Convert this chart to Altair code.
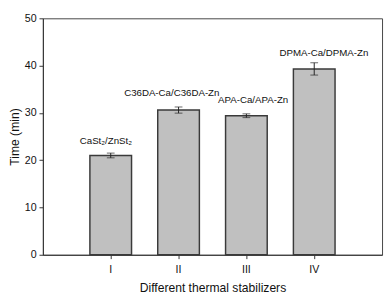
import altair as alt
import pandas as pd

categories = ["I", "II", "III", "IV"]
times = [21.0, 30.6, 29.4, 39.3]
errors = [0.5, 0.65, 0.4, 1.3]
labels = ["CaSt₂/ZnSt₂", "C36DA-Ca/C36DA-Zn", "APA-Ca/APA-Zn", "DPMA-Ca/DPMA-Zn"]
label_y = [24.0, 34.2, 32.7, 42.7]
label_dx = [-5, -7, 7, 10]

df = pd.DataFrame({
    "cat": categories,
    "time": times,
    "lo": [t - e for t, e in zip(times, errors)],
    "hi": [t + e for t, e in zip(times, errors)],
    "label": labels,
    "ly": label_y,
    "dx": label_dx,
})

FONT = "Liberation Sans"

x = alt.X("cat:N", sort=categories,
          scale=alt.Scale(paddingInner=0.386, paddingOuter=0.693),
          axis=alt.Axis(title="Different thermal stabilizers", labelAngle=0,
                        labelFontSize=11, titleFontSize=12.5, titlePadding=8,
                        labelPadding=5, tickSize=4, ticks=True))
y_scale = alt.Scale(domain=[0, 50], nice=False)

base = alt.Chart(df)

bars = base.mark_bar(color="#c0c0c0", stroke="#3a3a3a", strokeWidth=1.5).encode(
    x=x,
    y=alt.Y("time:Q", scale=y_scale,
            axis=alt.Axis(title="Time (min)", values=[0, 10, 20, 30, 40, 50],
                          grid=False, labelFontSize=11, titleFontSize=12.5,
                          tickSize=4, labelPadding=3, titlePadding=3)),
)

rule = base.mark_rule(color="#222", strokeWidth=1).encode(
    x=alt.X("cat:N", sort=categories), y="lo:Q", y2="hi:Q")
cap_lo = base.mark_tick(color="#222", size=8, thickness=1).encode(
    x=alt.X("cat:N", sort=categories), y="lo:Q")
cap_hi = base.mark_tick(color="#222", size=8, thickness=1).encode(
    x=alt.X("cat:N", sort=categories), y="hi:Q")

texts = []
for i in range(len(categories)):
    sub = df.iloc[[i]]
    texts.append(alt.Chart(sub).mark_text(fontSize=10, font=FONT, color="#111",
                                          baseline="middle", dx=label_dx[i]).encode(
        x=alt.X("cat:N", sort=categories), y="ly:Q", text="label:N"))

chart = alt.layer(bars, rule, cap_lo, cap_hi, *texts).properties(
    width=350, height=244,
    padding={"left": 0, "top": 0, "right": 2, "bottom": 0},
).configure_view(stroke="#444", strokeWidth=1).configure_axis(
    labelFont=FONT, titleFont=FONT, labelColor="#111", titleColor="#111",
    domainColor="#333", tickColor="#333", titleFontWeight="normal",
)

chart.save("out.html", embed_options={"renderer": "svg", "actions": False})
